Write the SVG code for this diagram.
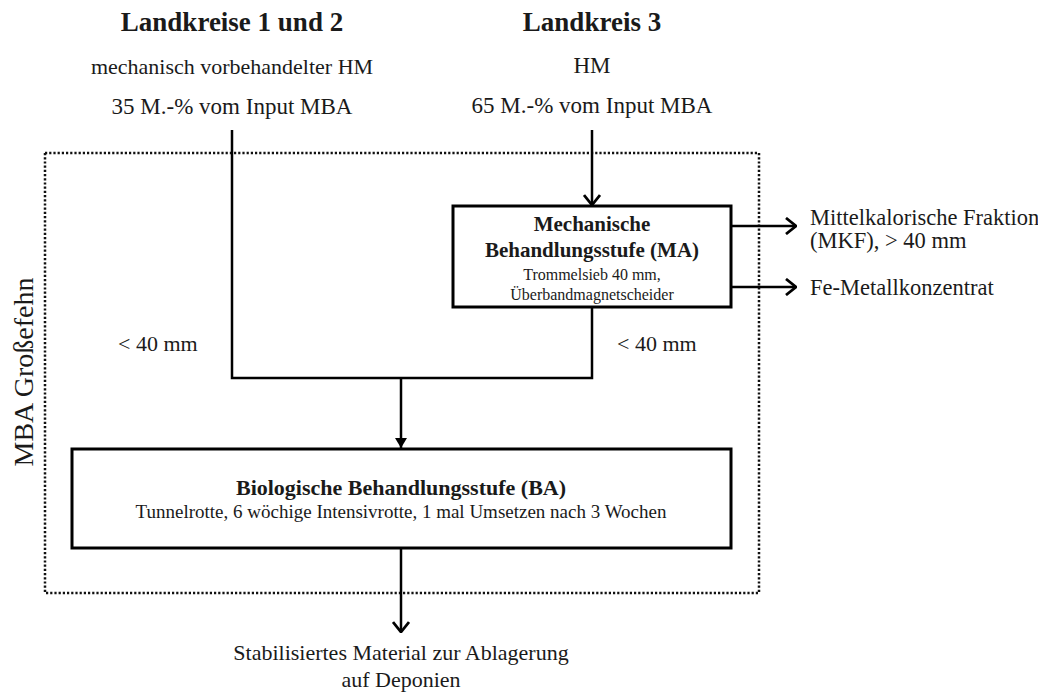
<svg xmlns="http://www.w3.org/2000/svg" width="1038" height="693" viewBox="0 0 1038 693">
  <style>
    text { font-family: "Liberation Serif", "Times New Roman", serif; fill: #1a1a1a; }
    .head { font-size: 27px; font-weight: bold; text-anchor: middle; }
    .sub { font-size: 23px; text-anchor: middle; }
    .lbl { font-size: 22px; }
    .title { font-size: 21px; font-weight: bold; text-anchor: middle; }
    .note { font-size: 16px; text-anchor: middle; }
    .note2 { font-size: 19px; text-anchor: middle; }
    .box { fill: #ffffff; stroke: #000000; stroke-width: 3; }
    .flow { fill: none; stroke: #000000; stroke-width: 2.5; }
    .frame { fill: none; stroke: #111111; stroke-width: 2.5; stroke-dasharray: 2.2 2; }
  </style>
  <defs>
    <marker id="arrow" viewBox="0 0 12 18" refX="11" refY="9" markerWidth="12" markerHeight="18" markerUnits="userSpaceOnUse" orient="auto">
      <path d="M1,1 L11,9 L1,17" fill="none" stroke="#000000" stroke-width="2.8"/>
    </marker>
    <marker id="arrowSmall" viewBox="0 0 10 12" refX="10" refY="6" markerWidth="10" markerHeight="12" markerUnits="userSpaceOnUse" orient="auto">
      <path d="M0,0 L10,6 L0,12 Z" fill="#000000"/>
    </marker>
  </defs>

  <!-- plant boundary -->
  <g id="plant">
    <rect class="frame" x="45" y="153" width="714" height="440"/>
    <text class="lbl" x="33" y="372" style="font-size:28px" text-anchor="middle" transform="rotate(-90 33 372)">MBA Großefehn</text>
  </g>

  <!-- inputs -->
  <g id="input-lk12">
    <text class="head" x="232" y="31">Landkreise 1 und 2</text>
    <text class="sub" x="232" y="74" style="font-size:22px">mechanisch vorbehandelter HM</text>
    <text class="sub" x="232" y="114">35 M.-% vom Input MBA</text>
  </g>
  <g id="input-lk3">
    <text class="head" x="592" y="31">Landkreis 3</text>
    <text class="sub" x="592" y="73">HM</text>
    <text class="sub" x="592" y="113">65 M.-% vom Input MBA</text>
  </g>

  <!-- connectors -->
  <g id="connectors">
    <line class="flow" x1="592" y1="130" x2="592" y2="205" marker-end="url(#arrow)"/>
    <polyline class="flow" points="232,130 232,378 592,378 592,307"/>
    <line class="flow" x1="401" y1="378" x2="401" y2="448" marker-end="url(#arrowSmall)"/>
    <line class="flow" x1="731" y1="226" x2="796" y2="226" marker-end="url(#arrow)"/>
    <line class="flow" x1="731" y1="287" x2="796" y2="287" marker-end="url(#arrow)"/>
    <line class="flow" x1="401" y1="548" x2="401" y2="632" marker-end="url(#arrow)"/>
    <text class="lbl" x="118" y="351">&lt; 40 mm</text>
    <text class="lbl" x="617" y="351">&lt; 40 mm</text>
  </g>

  <!-- mechanical stage -->
  <g id="stage-ma">
    <rect class="box" x="453" y="206" width="278" height="101"/>
    <text class="title" x="592" y="231">Mechanische</text>
    <text class="title" x="592" y="257">Behandlungsstufe (MA)</text>
    <text class="note" x="592" y="280">Trommelsieb 40 mm,</text>
    <text class="note" x="592" y="300">Überbandmagnetscheider</text>
  </g>

  <!-- outputs of the mechanical stage -->
  <g id="out-mkf">
    <text class="lbl" x="810" y="225" style="font-size:22.5px">Mittelkalorische Fraktion</text>
    <text class="lbl" x="810" y="248" style="font-size:22.5px">(MKF), &gt; 40 mm</text>
  </g>
  <g id="out-fe">
    <text class="lbl" x="810" y="295" style="font-size:22.5px">Fe-Metallkonzentrat</text>
  </g>

  <!-- biological stage -->
  <g id="stage-ba">
    <rect class="box" x="72" y="449" width="659" height="99"/>
    <text class="title" x="401" y="495" style="font-size:22px">Biologische Behandlungsstufe (BA)</text>
    <text class="note2" x="401" y="518">Tunnelrotte, 6 wöchige Intensivrotte, 1 mal Umsetzen nach 3 Wochen</text>
  </g>

  <!-- final output -->
  <g id="out-landfill">
    <text class="sub" x="401" y="660" style="font-size:22px">Stabilisiertes Material zur Ablagerung</text>
    <text class="sub" x="401" y="687" style="font-size:22px">auf Deponien</text>
  </g>
</svg>
